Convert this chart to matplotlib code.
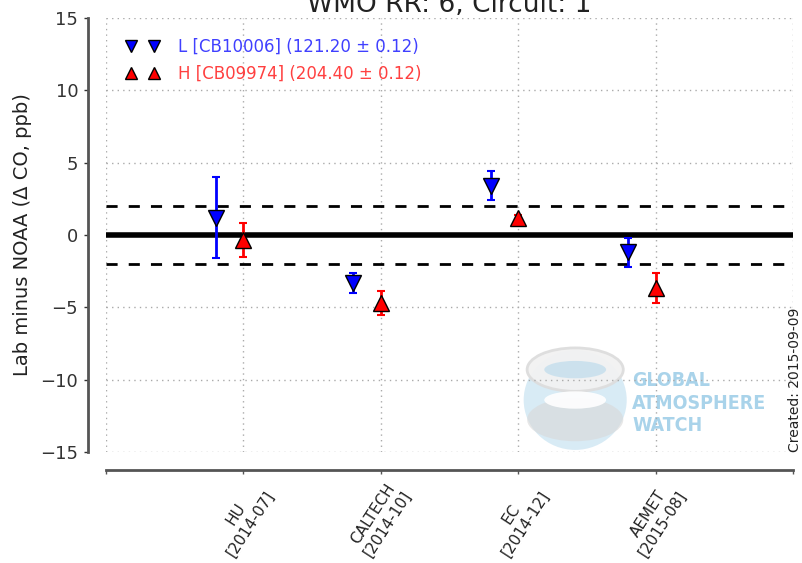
import matplotlib
matplotlib.use("Agg")
import matplotlib.pyplot as plt
from matplotlib.patches import Ellipse
from matplotlib.lines import Line2D
import numpy as np

# Laboratories and comparison dates
labs = ["HU", "CALTECH", "EC", "AEMET"]
dates = ["2014-07", "2014-10", "2014-12", "2015-08"]

# Lab minus NOAA differences (ppb) with uncertainties
low_vals = [1.2, -3.3, 3.4, -1.2]
low_errs = [2.8, 0.7, 1.0, 1.0]
high_vals = [-0.35, -4.7, 1.2, -3.65]
high_errs = [1.15, 0.85, 0.2, 1.05]

low_label = "L [CB10006] (121.20 \u00b1 0.12)"
high_label = "H [CB09974] (204.40 \u00b1 0.12)"
title = "WMO RR: 6, Circuit: 1"
created = "Created: 2015-09-09"
compat_goal = 2.0

fig = plt.figure(figsize=(8.03, 5.63), dpi=100)
ax = fig.add_axes([0.132, 0.197, 0.8555, 0.771])

# Offset spines first (repositioning a spine resets the ticks)
for side in ("top", "right"):
    ax.spines[side].set_visible(False)
for side in ("left", "bottom"):
    ax.spines[side].set_position(("outward", 13))
    ax.spines[side].set_color("#555555")
    ax.spines[side].set_linewidth(2)

x = np.arange(1, len(labs) + 1)
offset = 0.2

ax.axhline(0, color="black", lw=4, zorder=2)
ax.axhline(compat_goal, color="black", lw=2, ls=(0, (4, 4)), zorder=2)
ax.axhline(-compat_goal, color="black", lw=2, ls=(0, (4, 4)), zorder=2)

ax.errorbar(x - offset, low_vals, yerr=low_errs, fmt="v", color="blue",
            ecolor="blue", mfc="blue", mec="black", ms=11, elinewidth=2,
            capsize=3, capthick=1.5, zorder=4)
ax.errorbar(x, high_vals, yerr=high_errs, fmt="^", color="red",
            ecolor="red", mfc="red", mec="black", ms=11, elinewidth=2,
            capsize=3, capthick=1.5, zorder=4)

ax.set_xlim(0, len(labs) + 1)
ax.set_ylim(-15, 15)
ax.set_yticks(np.arange(-15, 16, 5))
ax.set_xticks(np.arange(0, len(labs) + 2))
ax.set_xticklabels([""] + [f"{l}\n[{d}]" for l, d in zip(labs, dates)] + [""])
ax.tick_params(axis="y", labelsize=13, colors="#333333", length=3, width=1,
               direction="out", pad=4)
ax.tick_params(axis="x", length=3, width=1, direction="out", colors="#555555",
               labelcolor="#222222", pad=3)
for lbl in ax.get_xticklabels():
    lbl.set_rotation(57)
    lbl.set_ha("center")
    lbl.set_va("top")
    lbl.set_fontsize(11)
    lbl.set_multialignment("center")

ax.grid(True, ls=(0, (1, 3)), color="#aaaaaa", lw=1)

ax.set_ylabel("Lab minus NOAA (\u0394 CO, ppb)", fontsize=14, color="#222222",
              labelpad=6)
ax.set_title(title, fontsize=19, pad=0, color="#222222")

handles = [
    Line2D([], [], ls="none", marker="v", mfc="blue", mec="black", ms=8),
    Line2D([], [], ls="none", marker="^", mfc="red", mec="black", ms=8),
]
leg = ax.legend(handles, [low_label, high_label], loc="upper left",
                numpoints=2, frameon=False, fontsize=12, handlelength=2.0,
                handletextpad=1.1, borderaxespad=0.8, borderpad=0.4,
                labelspacing=0.5)
for txt, col in zip(leg.get_texts(), ["blue", "red"]):
    txt.set_color(col)
    txt.set_alpha(0.75)

# GAW logo watermark
tr = ax.transAxes
logo_blue = "#a9d3ea"
ax.add_patch(Ellipse((0.683, 0.12), 0.15, 0.23, transform=tr, fc=logo_blue,
                     ec="none", alpha=0.45, zorder=1))
ax.add_patch(Ellipse((0.683, 0.075), 0.14, 0.10, transform=tr, fc="#d8d8d8",
                     ec="none", alpha=0.6, zorder=1))
ax.add_patch(Ellipse((0.683, 0.19), 0.14, 0.10, transform=tr, fc="#f2f2f2",
                     ec="#dddddd", lw=2, alpha=0.95, zorder=1))
ax.add_patch(Ellipse((0.683, 0.19), 0.09, 0.04, transform=tr, fc=logo_blue,
                     ec="none", alpha=0.5, zorder=1))
ax.add_patch(Ellipse((0.683, 0.12), 0.09, 0.04, transform=tr, fc="white",
                     ec="none", alpha=0.9, zorder=1))
for i, word in enumerate(["GLOBAL", "ATMOSPHERE", "WATCH"]):
    ax.text(0.766, 0.165 - i * 0.052, word, transform=tr, fontsize=14,
            color=logo_blue, fontweight="bold", va="center", ha="left",
            fontstretch="condensed", zorder=1)

fig.text(0.990, 0.197, created, rotation=90, fontsize=10, ha="center",
         va="bottom", color="#222222")

fig.savefig("out.png", dpi=100)
